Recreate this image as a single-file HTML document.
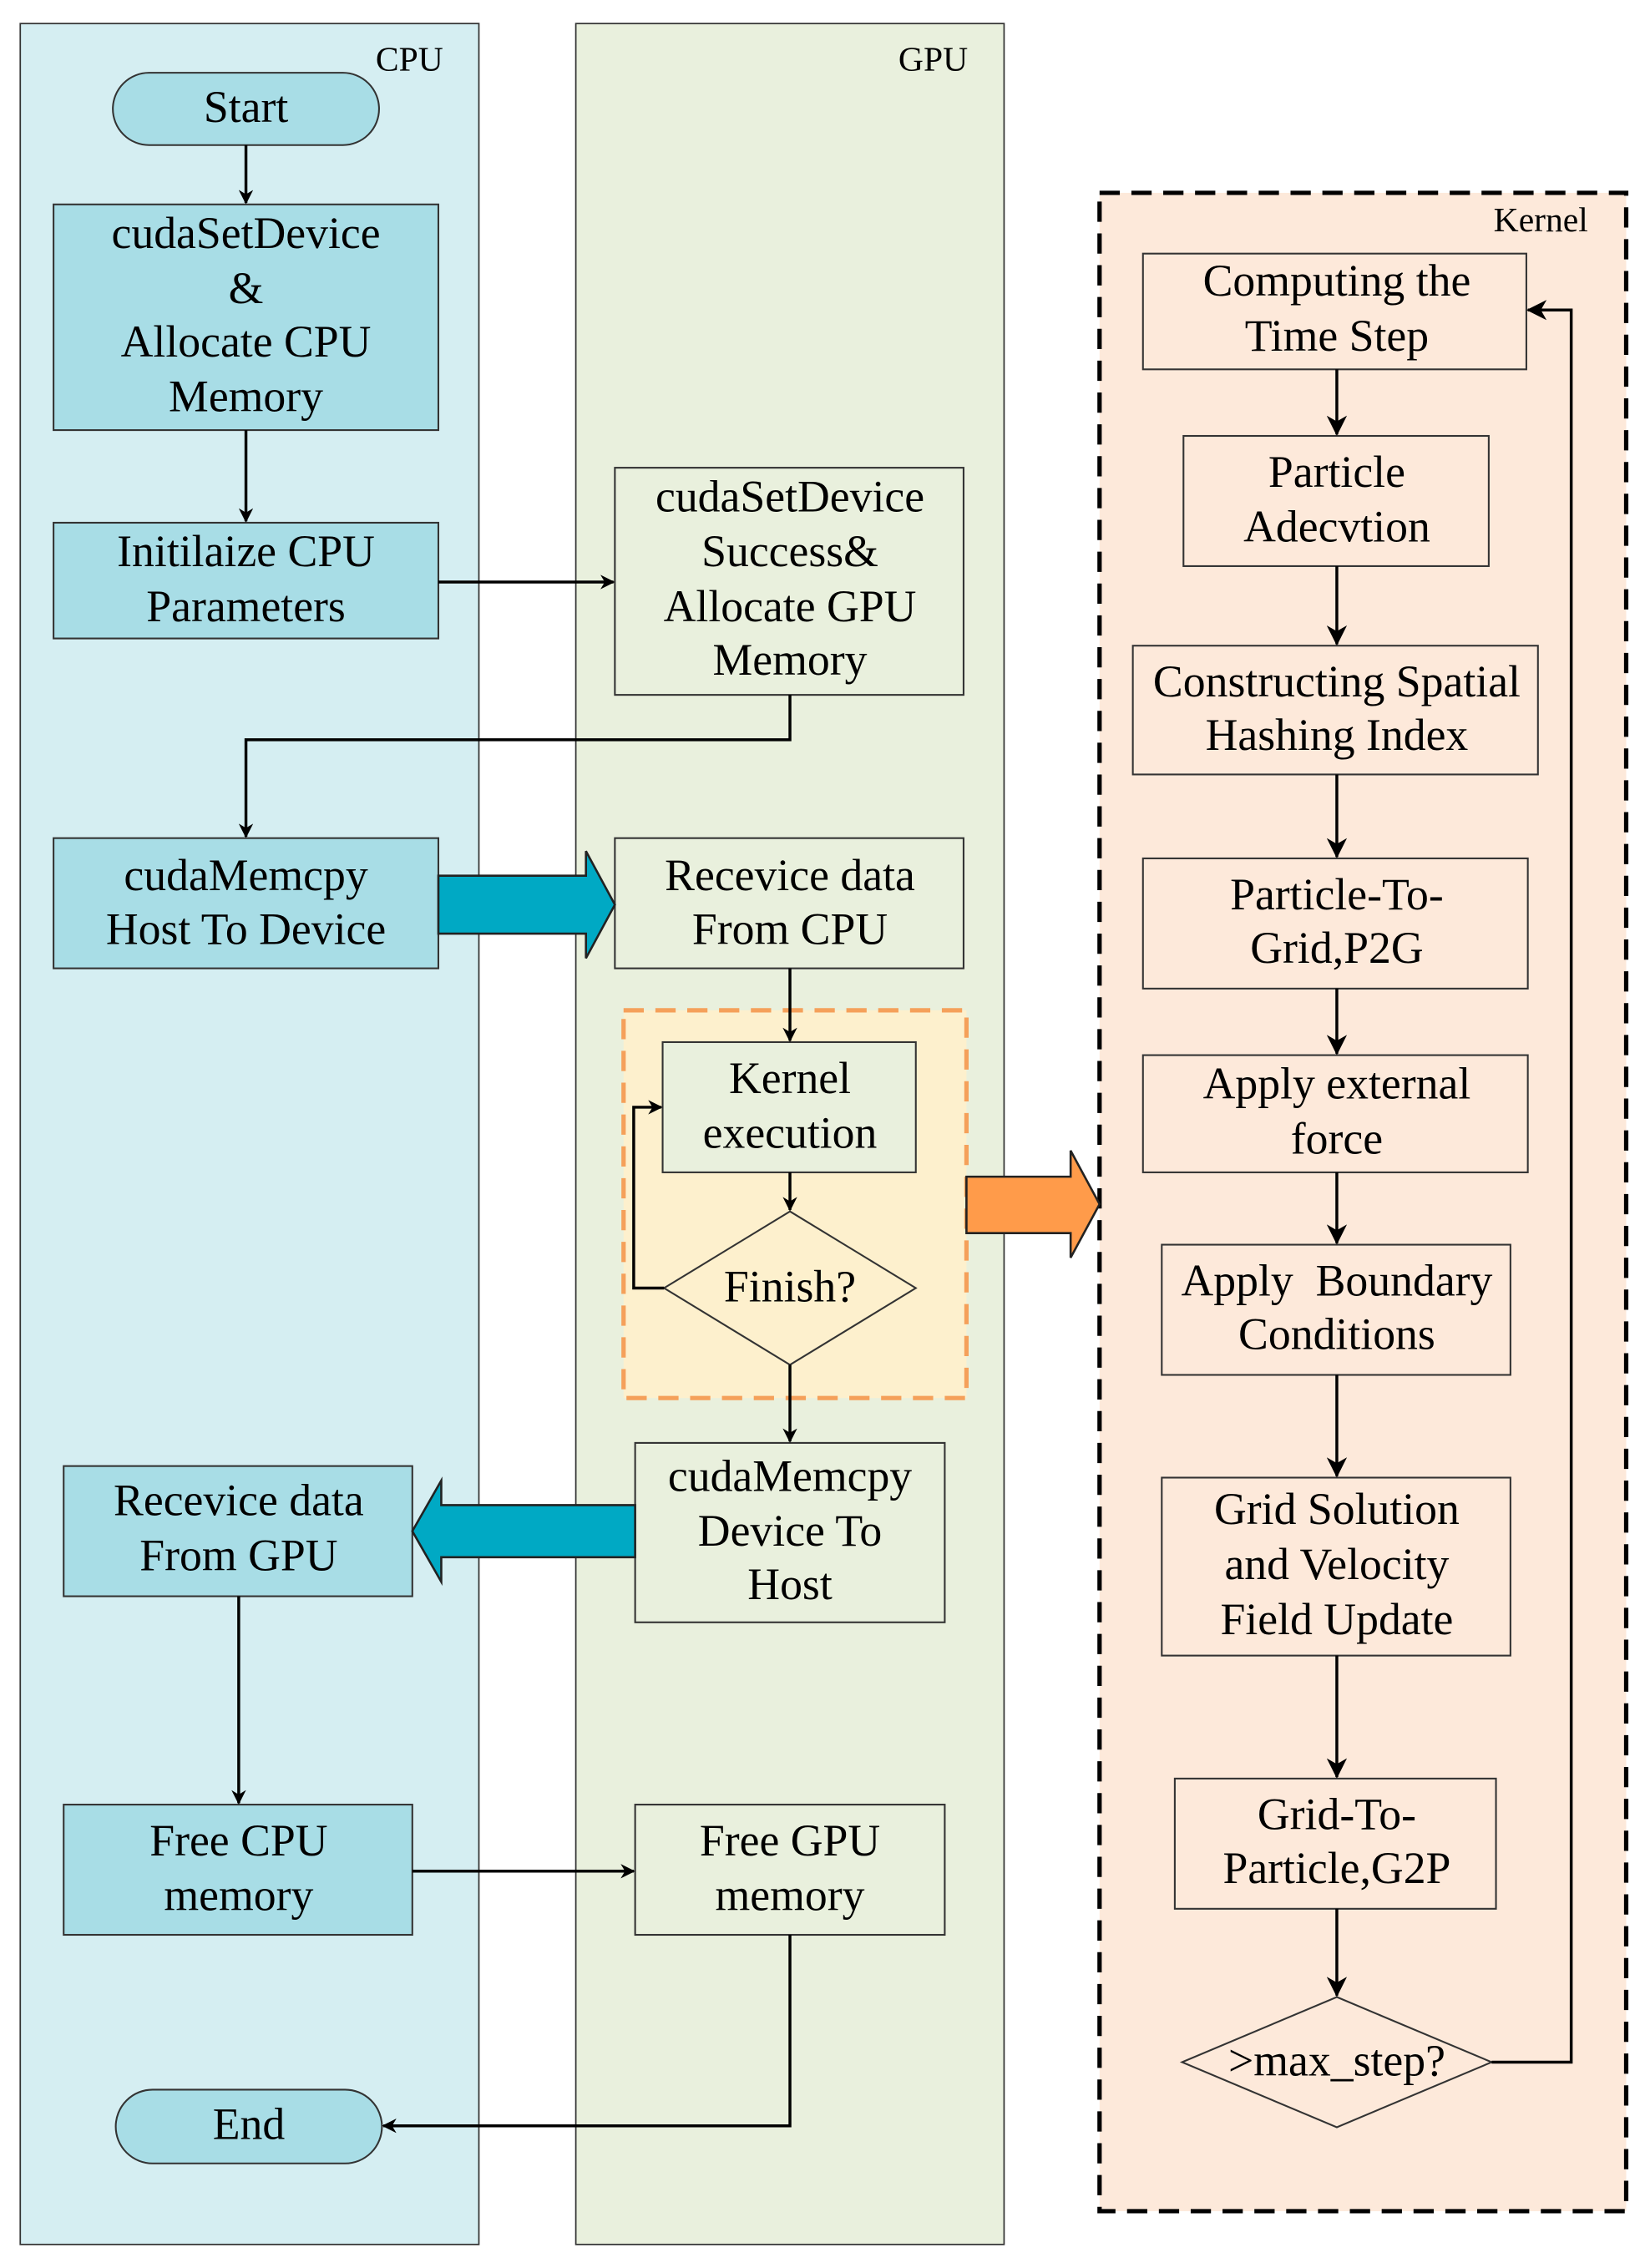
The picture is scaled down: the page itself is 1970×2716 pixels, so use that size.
<!DOCTYPE html>
<html><head><meta charset="utf-8"><style>
html,body{margin:0;padding:0;background:#fff;}
svg{display:block;}
text{font-family:"Liberation Serif",serif;font-size:31px;fill:#000;text-anchor:middle;dominant-baseline:middle;}
.s{font-size:24px;}
</style></head><body>
<svg width="1970" height="2716" viewBox="0 0 1137 1567" xmlns="http://www.w3.org/2000/svg">
<defs>
<marker id="a" markerWidth="10" markerHeight="10" refX="9" refY="5" orient="auto" markerUnits="userSpaceOnUse">
<path d="M0,0 L10,5 L0,10 L3,5 z" fill="#000"/></marker>
<marker id="b" markerWidth="14" markerHeight="14" refX="13" refY="7" orient="auto" markerUnits="userSpaceOnUse">
<path d="M0,0 L14,7 L0,14 L4,7 z" fill="#000"/></marker>
</defs>
<rect width="1137" height="1567" fill="#fff"/>
<rect x="14" y="16" width="317" height="1535" fill="#d5eef2" stroke="#333" stroke-width="1"/>
<rect x="398" y="16" width="296" height="1535" fill="#e9f0dd" stroke="#333" stroke-width="1"/>
<rect x="760" y="133" width="364" height="1395" fill="#fde9da" stroke="#000" stroke-width="3" stroke-dasharray="14,8"/>
<text x="283" y="43" class="s">CPU</text>
<text x="645" y="43" class="s">GPU</text>
<text x="1065" y="154" class="s">Kernel</text>

<g stroke="#333" stroke-width="1.2">
<rect x="78" y="50" width="184" height="50" rx="25" fill="#a8dde6"/>
<rect x="37" y="141" width="266" height="156" fill="#a8dde6"/>
<rect x="37" y="361" width="266" height="80" fill="#a8dde6"/>
<rect x="37" y="579" width="266" height="90" fill="#a8dde6"/>
<rect x="44" y="1013" width="241" height="90" fill="#a8dde6"/>
<rect x="44" y="1247" width="241" height="90" fill="#a8dde6"/>
<rect x="80" y="1444" width="184" height="51" rx="25.5" fill="#a8dde6"/>
<rect x="425" y="323" width="241" height="157" fill="#e9f0dd"/>
<rect x="425" y="579" width="241" height="90" fill="#e9f0dd"/>
<rect x="439" y="997" width="214" height="124" fill="#e9f0dd"/>
<rect x="439" y="1247" width="214" height="90" fill="#e9f0dd"/>
</g>
<rect x="431" y="698" width="237" height="268" fill="#fdf0cd" stroke="#f5a05a" stroke-width="3" stroke-dasharray="14,8"/>
<g stroke="#333" stroke-width="1.2">
<rect x="458" y="720" width="175" height="90" fill="#e9f0dd"/>
<path d="M546,837 L633,890 L546,943 L459,890 Z" fill="#fdf0cd"/>
<rect x="790" y="175" width="265" height="80" fill="#fde9da"/>
<rect x="818" y="301" width="211" height="90" fill="#fde9da"/>
<rect x="783" y="446" width="280" height="89" fill="#fde9da"/>
<rect x="790" y="593" width="266" height="90" fill="#fde9da"/>
<rect x="790" y="729" width="266" height="81" fill="#fde9da"/>
<rect x="803" y="860" width="241" height="90" fill="#fde9da"/>
<rect x="803" y="1021" width="241" height="123" fill="#fde9da"/>
<rect x="812" y="1229" width="222" height="90" fill="#fde9da"/>
<path d="M924,1380 L1031,1425 L924,1470 L817,1425 Z" fill="#fde9da"/>
</g>

<path d="M303,605 L405,605 L405,588 L425,625 L405,662 L405,645 L303,645 Z" fill="#00a9c4" stroke="#222" stroke-width="1.5"/>
<path d="M439,1040 L305,1040 L305,1023 L285,1058 L305,1093 L305,1076 L439,1076 Z" fill="#00a9c4" stroke="#222" stroke-width="1.5"/>
<path d="M668,813 L740,813 L740,795 L760,832 L740,869 L740,852 L668,852 Z" fill="#ff9b4a" stroke="#222" stroke-width="1.5"/>

<g stroke="#000" stroke-width="2" fill="none">
<path d="M170,100 V140" marker-end="url(#a)"/>
<path d="M170,297 V360" marker-end="url(#a)"/>
<path d="M303,402 H424" marker-end="url(#a)"/>
<path d="M546,480 V511 H170 V578" marker-end="url(#a)"/>
<path d="M546,669 V719" marker-end="url(#a)"/>
<path d="M546,810 V836" marker-end="url(#a)"/>
<path d="M459,890 H438 V765 H457" marker-end="url(#a)"/>
<path d="M546,943 V996" marker-end="url(#a)"/>
<path d="M165,1103 V1246" marker-end="url(#a)"/>
<path d="M285,1293 H438" marker-end="url(#a)"/>
<path d="M546,1337 V1469 H265" marker-end="url(#a)"/>
<path d="M924,255 V300" marker-end="url(#b)"/>
<path d="M924,391 V445" marker-end="url(#b)"/>
<path d="M924,535 V592" marker-end="url(#b)"/>
<path d="M924,683 V728" marker-end="url(#b)"/>
<path d="M924,810 V859" marker-end="url(#b)"/>
<path d="M924,950 V1020" marker-end="url(#b)"/>
<path d="M924,1144 V1228" marker-end="url(#b)"/>
<path d="M924,1319 V1379" marker-end="url(#b)"/>
<path d="M1031,1425 H1086 V214 H1056" marker-end="url(#b)"/>
</g>

<g transform="translate(0,1)">
<text x="170" y="76">Start</text>
<text x="170" y="163">cudaSetDevice</text>
<text x="170" y="201">&amp;</text>
<text x="170" y="238">Allocate CPU</text>
<text x="170" y="276">Memory</text>
<text x="170" y="383">Initilaize CPU</text>
<text x="170" y="421">Parameters</text>
<text x="546" y="345">cudaSetDevice</text>
<text x="546" y="383">Success&amp;</text>
<text x="546" y="421">Allocate GPU</text>
<text x="546" y="458">Memory</text>
<text x="170" y="607">cudaMemcpy</text>
<text x="170" y="644">Host To Device</text>
<text x="546" y="607">Recevice data</text>
<text x="546" y="644">From CPU</text>
<text x="546" y="747">Kernel</text>
<text x="546" y="785">execution</text>
<text x="546" y="891">Finish?</text>
<text x="546" y="1022">cudaMemcpy</text>
<text x="546" y="1060">Device To</text>
<text x="546" y="1097">Host</text>
<text x="165" y="1039">Recevice data</text>
<text x="165" y="1077">From GPU</text>
<text x="165" y="1274">Free CPU</text>
<text x="165" y="1312">memory</text>
<text x="546" y="1274">Free GPU</text>
<text x="546" y="1312">memory</text>
<text x="172" y="1470">End</text>
<text x="924" y="196">Computing the</text>
<text x="924" y="234">Time Step</text>
<text x="924" y="328">Particle</text>
<text x="924" y="366">Adecvtion</text>
<text x="924" y="473">Constructing Spatial</text>
<text x="924" y="510">Hashing Index</text>
<text x="924" y="620">Particle-To-</text>
<text x="924" y="657">Grid,P2G</text>
<text x="924" y="751">Apply external</text>
<text x="924" y="789">force</text>
<text x="924" y="887" xml:space="preserve">Apply  Boundary</text>
<text x="924" y="924">Conditions</text>
<text x="924" y="1045">Grid Solution</text>
<text x="924" y="1083">and Velocity</text>
<text x="924" y="1121">Field Update</text>
<text x="924" y="1256">Grid-To-</text>
<text x="924" y="1293">Particle,G2P</text>
<text x="924" y="1426">&gt;max_step?</text>
</g>
</svg>
</body></html>
